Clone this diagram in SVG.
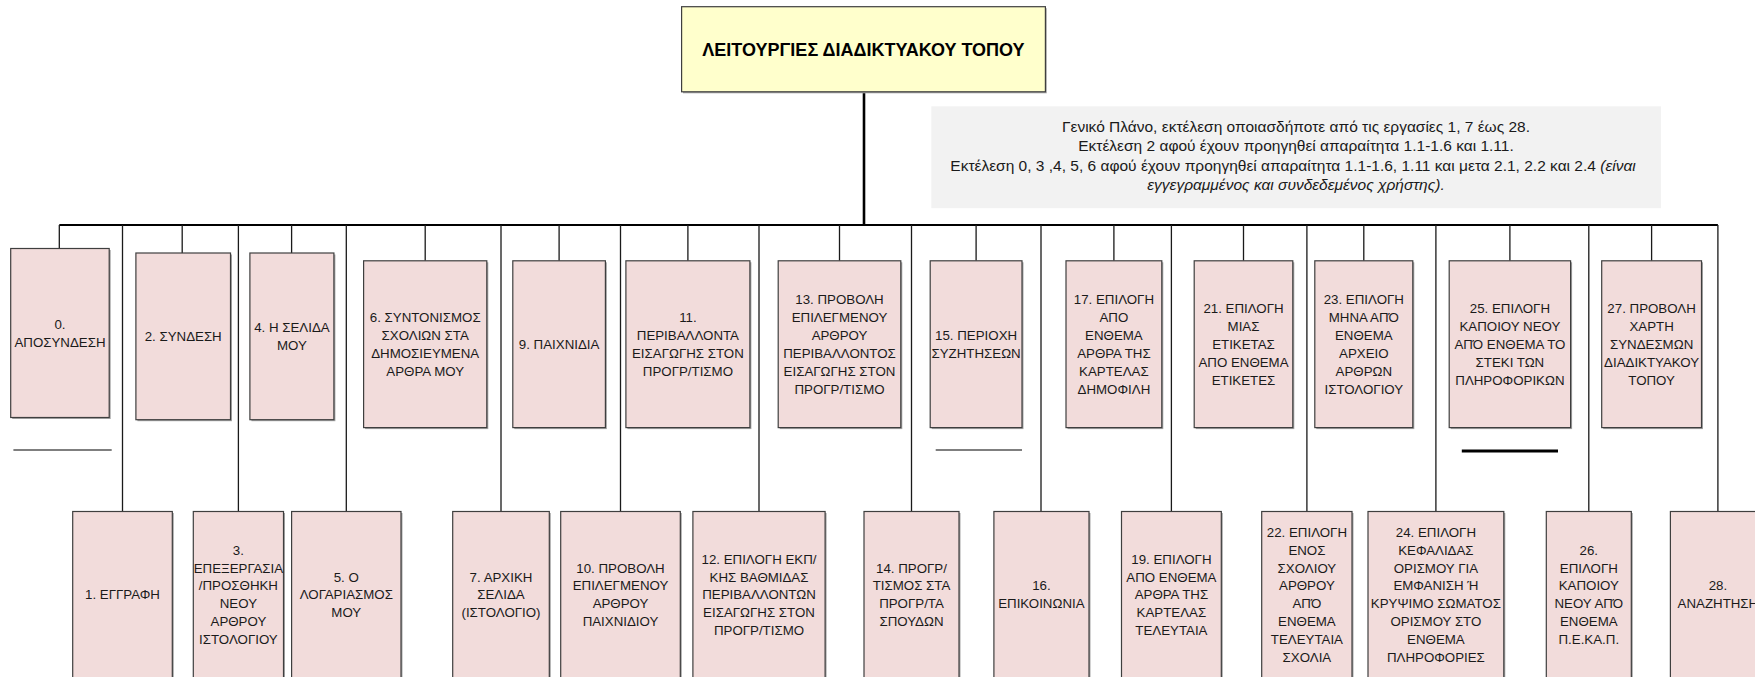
<svg xmlns="http://www.w3.org/2000/svg" width="1755" height="677" viewBox="0 0 1755 677">
  <style>
    .box { fill: #f2dcdb; stroke: #3f3f3f; stroke-width: 1.2; }
    .shadow { fill: #a6a6a6; }
    .title-box { fill: #ffffcc; stroke: #3f3f3f; stroke-width: 1.2; }
    .note-box { fill: #f2f2f2; }
    .lbl { font-family: "Liberation Sans", Arial, sans-serif; font-size: 13.3px; fill: #1a1a1a; text-anchor: middle; }
    .title { font-family: "Liberation Sans", Arial, sans-serif; font-size: 18px; font-weight: bold; fill: #000; text-anchor: middle; }
    .note { font-family: "Liberation Sans", Arial, sans-serif; font-size: 15.5px; fill: #1a1a1a; text-anchor: middle; }
    .conn { fill: none; stroke: #1a1a1a; stroke-width: 1.3; }
    .bus { fill: none; stroke: #000; stroke-width: 2; }
    .trunk { fill: none; stroke: #000; stroke-width: 2.6; }
    .rule { stroke: #000; stroke-width: 1.2; }
    .rule-thick { stroke: #000; stroke-width: 3; }
  </style>

  <rect width="1755" height="677" fill="#ffffff"/>

  <!-- connectors: trunk, bus, drops to the upper row, long lines to the lower row -->
  <g id="connectors">
    <path class="trunk" d="M864 92 V225"/>
    <path class="bus" d="M59.3 225 H1717.9"/>
    <path class="conn" d="M59.3 225 V248.5 M182.2 225 V253 M291.6 225 V253 M425.2 225 V260.8 M559.1 225 V260.8 M687.9 225 V260.8 M839.5 225 V260.8 M976.1 225 V260.8 M1113.9 225 V260.8 M1243.5 225 V260.8 M1363.8 225 V260.8 M1509.9 225 V260.8 M1651.6 225 V260.8"/>
    <path class="conn" d="M122.5 225 V511.5 M238.4 225 V511.5 M346.3 225 V511.5 M501 225 V511.5 M620.5 225 V511.5 M759 225 V511.5 M911.5 225 V511.5 M1041 225 V511.5 M1171.4 225 V511.5 M1306.9 225 V511.5 M1435.9 225 V511.5 M1588.8 225 V511.5 M1717.9 225 V511.5"/>
  </g>

  <!-- separator rules under the upper row -->
  <g id="rules">
    <line class="rule" x1="13.4" y1="450" x2="111.7" y2="450"/>
    <line class="rule" x1="935.7" y1="450" x2="1022" y2="450"/>
    <line class="rule-thick" x1="1461.8" y1="451" x2="1558" y2="451"/>
  </g>

  <!-- root -->
  <g id="root">
    <rect class="shadow" x="683" y="8.2" width="363.8" height="85.1"/>
    <rect class="title-box" x="681.6" y="6.7" width="363.8" height="85.1"/>
    <text class="title" x="863.5" y="55.5">ΛΕΙΤΟΥΡΓΙΕΣ ΔΙΑΔΙΚΤΥΑΚΟΥ ΤΟΠΟΥ</text>
  </g>

  <!-- execution note -->
  <g id="note">
    <rect class="note-box" x="931.3" y="106.3" width="729.7" height="101.9"/>
    <text class="note" x="1296" y="131.5">Γενικό Πλάνο, εκτέλεση οποιασδήποτε από τις εργασίες  1, 7  έως 28.</text>
    <text class="note" x="1296" y="150.5">Εκτέλεση 2 αφού  έχουν προηγηθεί απαραίτητα 1.1-1.6 και 1.11.</text>
    <text class="note" x="1293" y="170.5">Εκτέλεση 0, 3 ,4, 5, 6 αφού έχουν προηγηθεί απαραίτητα 1.1-1.6, 1.11 και μετα 2.1, 2.2 και 2.4  <tspan font-style="italic">(είναι</tspan></text>
    <text class="note" x="1296" y="189.5" font-style="italic">εγγεγραμμένος και συνδεδεμένος χρήστης).</text>
  </g>

  <!-- upper row -->
  <g id="n0">
    <rect class="shadow" x="12.2" y="250" width="98.5" height="169"/>
    <rect class="box" x="10.7" y="248.5" width="98.5" height="169"/>
    <text class="lbl" x="60" y="329.05">0.<tspan x="60" dy="17.9">ΑΠΟΣΥΝΔΕΣΗ</tspan></text>
  </g>
  <g id="n2">
    <rect class="shadow" x="137.4" y="254.5" width="94.6" height="166.7"/>
    <rect class="box" x="135.9" y="253" width="94.6" height="166.7"/>
    <text class="lbl" x="183.2" y="341.4">2. ΣΥΝΔΕΣΗ</text>
  </g>
  <g id="n4">
    <rect class="shadow" x="251.4" y="254.5" width="84" height="166.7"/>
    <rect class="box" x="249.9" y="253" width="84" height="166.7"/>
    <text class="lbl" x="291.9" y="332.45">4. Η ΣΕΛΙΔΑ<tspan x="291.9" dy="17.9">ΜΟΥ</tspan></text>
  </g>
  <g id="n6">
    <rect class="shadow" x="365.1" y="262.3" width="123.2" height="166.8"/>
    <rect class="box" x="363.6" y="260.8" width="123.2" height="166.8"/>
    <text class="lbl" x="425.2" y="322.35">6. ΣΥΝΤΟΝΙΣΜΟΣ<tspan x="425.2" dy="17.9">ΣΧΟΛΙΩΝ ΣΤΑ</tspan><tspan x="425.2" dy="17.9">ΔΗΜΟΣΙΕΥΜΕΝΑ</tspan><tspan x="425.2" dy="17.9">ΑΡΘΡΑ ΜΟΥ</tspan></text>
  </g>
  <g id="n9">
    <rect class="shadow" x="514.3" y="262.3" width="92.6" height="166.8"/>
    <rect class="box" x="512.8" y="260.8" width="92.6" height="166.8"/>
    <text class="lbl" x="559.1" y="349.2">9. ΠΑΙΧΝΙΔΙΑ</text>
  </g>
  <g id="n11">
    <rect class="shadow" x="627.4" y="262.3" width="124" height="166.8"/>
    <rect class="box" x="625.9" y="260.8" width="124" height="166.8"/>
    <text class="lbl" x="687.9" y="322.35">11.<tspan x="687.9" dy="17.9">ΠΕΡΙΒΑΛΛΟΝΤΑ</tspan><tspan x="687.9" dy="17.9">ΕΙΣΑΓΩΓΗΣ ΣΤΟΝ</tspan><tspan x="687.9" dy="17.9">ΠΡΟΓΡ/ΤΙΣΜΟ</tspan></text>
  </g>
  <g id="n13">
    <rect class="shadow" x="779.7" y="262.3" width="122.6" height="166.8"/>
    <rect class="box" x="778.2" y="260.8" width="122.6" height="166.8"/>
    <text class="lbl" x="839.5" y="304.45">13. ΠΡΟΒΟΛΗ<tspan x="839.5" dy="17.9">ΕΠΙΛΕΓΜΕΝΟΥ</tspan><tspan x="839.5" dy="17.9">ΑΡΘΡΟΥ</tspan><tspan x="839.5" dy="17.9">ΠΕΡΙΒΑΛΛΟΝΤΟΣ</tspan><tspan x="839.5" dy="17.9">ΕΙΣΑΓΩΓΗΣ ΣΤΟΝ</tspan><tspan x="839.5" dy="17.9">ΠΡΟΓΡ/ΤΙΣΜΟ</tspan></text>
  </g>
  <g id="n15">
    <rect class="shadow" x="931.7" y="262.3" width="91.8" height="166.8"/>
    <rect class="box" x="930.2" y="260.8" width="91.8" height="166.8"/>
    <text class="lbl" x="976.1" y="340.25">15. ΠΕΡΙΟΧΗ<tspan x="976.1" dy="17.9">ΣΥΖΗΤΗΣΕΩΝ</tspan></text>
  </g>
  <g id="n17">
    <rect class="shadow" x="1067.5" y="262.3" width="95.8" height="166.8"/>
    <rect class="box" x="1066" y="260.8" width="95.8" height="166.8"/>
    <text class="lbl" x="1113.9" y="304.45">17. ΕΠΙΛΟΓΗ<tspan x="1113.9" dy="17.9">ΑΠΟ</tspan><tspan x="1113.9" dy="17.9">ΕΝΘΕΜΑ</tspan><tspan x="1113.9" dy="17.9">ΑΡΘΡΑ ΤΗΣ</tspan><tspan x="1113.9" dy="17.9">ΚΑΡΤΕΛΑΣ</tspan><tspan x="1113.9" dy="17.9">ΔΗΜΟΦΙΛΗ</tspan></text>
  </g>
  <g id="n21">
    <rect class="shadow" x="1195.7" y="262.3" width="98.6" height="166.8"/>
    <rect class="box" x="1194.2" y="260.8" width="98.6" height="166.8"/>
    <text class="lbl" x="1243.5" y="313.4">21. ΕΠΙΛΟΓΗ<tspan x="1243.5" dy="17.9">ΜΙΑΣ</tspan><tspan x="1243.5" dy="17.9">ΕΤΙΚΕΤΑΣ</tspan><tspan x="1243.5" dy="17.9">ΑΠΟ ΕΝΘΕΜΑ</tspan><tspan x="1243.5" dy="17.9">ΕΤΙΚΕΤΕΣ</tspan></text>
  </g>
  <g id="n23">
    <rect class="shadow" x="1316.3" y="262.3" width="98" height="166.8"/>
    <rect class="box" x="1314.8" y="260.8" width="98" height="166.8"/>
    <text class="lbl" x="1363.8" y="304.45">23. ΕΠΙΛΟΓΗ<tspan x="1363.8" dy="17.9">ΜΗΝΑ ΑΠΌ</tspan><tspan x="1363.8" dy="17.9">ΕΝΘΕΜΑ</tspan><tspan x="1363.8" dy="17.9">ΑΡΧΕΙΟ</tspan><tspan x="1363.8" dy="17.9">ΑΡΘΡΩΝ</tspan><tspan x="1363.8" dy="17.9">ΙΣΤΟΛΟΓΙΟΥ</tspan></text>
  </g>
  <g id="n25">
    <rect class="shadow" x="1450.7" y="262.3" width="121.4" height="166.8"/>
    <rect class="box" x="1449.2" y="260.8" width="121.4" height="166.8"/>
    <text class="lbl" x="1509.9" y="313.4">25. ΕΠΙΛΟΓΗ<tspan x="1509.9" dy="17.9">ΚΑΠΟΙΟΥ ΝΕΟΥ</tspan><tspan x="1509.9" dy="17.9">ΑΠΌ ΕΝΘΕΜΑ ΤΟ</tspan><tspan x="1509.9" dy="17.9">ΣΤΕΚΙ ΤΩΝ</tspan><tspan x="1509.9" dy="17.9">ΠΛΗΡΟΦΟΡΙΚΩΝ</tspan></text>
  </g>
  <g id="n27">
    <rect class="shadow" x="1603.2" y="262.3" width="99.8" height="166.8"/>
    <rect class="box" x="1601.7" y="260.8" width="99.8" height="166.8"/>
    <text class="lbl" x="1651.6" y="313.4">27. ΠΡΟΒΟΛΗ<tspan x="1651.6" dy="17.9">ΧΑΡΤΗ</tspan><tspan x="1651.6" dy="17.9">ΣΥΝΔΕΣΜΩΝ</tspan><tspan x="1651.6" dy="17.9">ΔΙΑΔΙΚΤΥΑΚΟΥ</tspan><tspan x="1651.6" dy="17.9">ΤΟΠΟΥ</tspan></text>
  </g>

  <!-- lower row -->
  <g id="n1">
    <rect class="shadow" x="74.2" y="513" width="99.6" height="168.5"/>
    <rect class="box" x="72.7" y="511.5" width="99.6" height="168.5"/>
    <text class="lbl" x="122.5" y="599.4">1. ΕΓΓΡΑΦΗ</text>
  </g>
  <g id="n3">
    <rect class="shadow" x="194.8" y="513" width="90.2" height="168.5"/>
    <rect class="box" x="193.3" y="511.5" width="90.2" height="168.5"/>
    <text class="lbl" x="238.4" y="554.65">3.<tspan x="238.4" dy="17.9">ΕΠΕΞΕΡΓΑΣΙΑ</tspan><tspan x="238.4" dy="17.9">/ΠΡΟΣΘΗΚΗ</tspan><tspan x="238.4" dy="17.9">ΝΕΟΥ</tspan><tspan x="238.4" dy="17.9">ΑΡΘΡΟΥ</tspan><tspan x="238.4" dy="17.9">ΙΣΤΟΛΟΓΙΟΥ</tspan></text>
  </g>
  <g id="n5">
    <rect class="shadow" x="293.1" y="513" width="109.4" height="168.5"/>
    <rect class="box" x="291.6" y="511.5" width="109.4" height="168.5"/>
    <text class="lbl" x="346.3" y="581.5">5. Ο<tspan x="346.3" dy="17.9">ΛΟΓΑΡΙΑΣΜΟΣ</tspan><tspan x="346.3" dy="17.9">ΜΟΥ</tspan></text>
  </g>
  <g id="n7">
    <rect class="shadow" x="454.2" y="513" width="96.6" height="168.5"/>
    <rect class="box" x="452.7" y="511.5" width="96.6" height="168.5"/>
    <text class="lbl" x="501" y="581.5">7. ΑΡΧΙΚΗ<tspan x="501" dy="17.9">ΣΕΛΙΔΑ</tspan><tspan x="501" dy="17.9">(ΙΣΤΟΛΟΓΙΟ)</tspan></text>
  </g>
  <g id="n10">
    <rect class="shadow" x="562.2" y="513" width="119.6" height="168.5"/>
    <rect class="box" x="560.7" y="511.5" width="119.6" height="168.5"/>
    <text class="lbl" x="620.5" y="572.55">10. ΠΡΟΒΟΛΗ<tspan x="620.5" dy="17.9">ΕΠΙΛΕΓΜΕΝΟΥ</tspan><tspan x="620.5" dy="17.9">ΑΡΘΡΟΥ</tspan><tspan x="620.5" dy="17.9">ΠΑΙΧΝΙΔΙΟΥ</tspan></text>
  </g>
  <g id="n12">
    <rect class="shadow" x="694.4" y="513" width="132.2" height="168.5"/>
    <rect class="box" x="692.9" y="511.5" width="132.2" height="168.5"/>
    <text class="lbl" x="759" y="563.6">12. ΕΠΙΛΟΓΗ ΕΚΠ/<tspan x="759" dy="17.9">ΚΗΣ ΒΑΘΜΙΔΑΣ</tspan><tspan x="759" dy="17.9">ΠΕΡΙΒΑΛΛΟΝΤΩΝ</tspan><tspan x="759" dy="17.9">ΕΙΣΑΓΩΓΗΣ ΣΤΟΝ</tspan><tspan x="759" dy="17.9">ΠΡΟΓΡ/ΤΙΣΜΟ</tspan></text>
  </g>
  <g id="n14">
    <rect class="shadow" x="865.5" y="513" width="95" height="168.5"/>
    <rect class="box" x="864" y="511.5" width="95" height="168.5"/>
    <text class="lbl" x="911.5" y="572.55">14. ΠΡΟΓΡ/<tspan x="911.5" dy="17.9">ΤΙΣΜΟΣ ΣΤΑ</tspan><tspan x="911.5" dy="17.9">ΠΡΟΓΡ/ΤΑ</tspan><tspan x="911.5" dy="17.9">ΣΠΟΥΔΩΝ</tspan></text>
  </g>
  <g id="n16">
    <rect class="shadow" x="995.4" y="513" width="95.1" height="168.5"/>
    <rect class="box" x="993.9" y="511.5" width="95.1" height="168.5"/>
    <text class="lbl" x="1041.4" y="590.45">16.<tspan x="1041.4" dy="17.9">ΕΠΙΚΟΙΝΩΝΙΑ</tspan></text>
  </g>
  <g id="n19">
    <rect class="shadow" x="1123" y="513" width="99.8" height="168.5"/>
    <rect class="box" x="1121.5" y="511.5" width="99.8" height="168.5"/>
    <text class="lbl" x="1171.4" y="563.6">19.  ΕΠΙΛΟΓΗ<tspan x="1171.4" dy="17.9">ΑΠΟ ΕΝΘΕΜΑ</tspan><tspan x="1171.4" dy="17.9">ΑΡΘΡΑ ΤΗΣ</tspan><tspan x="1171.4" dy="17.9">ΚΑΡΤΕΛΑΣ</tspan><tspan x="1171.4" dy="17.9">ΤΕΛΕΥΤΑΙΑ</tspan></text>
  </g>
  <g id="n22">
    <rect class="shadow" x="1263.2" y="513" width="90.3" height="168.5"/>
    <rect class="box" x="1261.7" y="511.5" width="90.3" height="168.5"/>
    <text class="lbl" x="1306.9" y="536.75">22. ΕΠΙΛΟΓΗ<tspan x="1306.9" dy="17.9">ΕΝΟΣ</tspan><tspan x="1306.9" dy="17.9">ΣΧΟΛΙΟΥ</tspan><tspan x="1306.9" dy="17.9">ΑΡΘΡΟΥ</tspan><tspan x="1306.9" dy="17.9">ΑΠΌ</tspan><tspan x="1306.9" dy="17.9">ΕΝΘΕΜΑ</tspan><tspan x="1306.9" dy="17.9">ΤΕΛΕΥΤΑΙΑ</tspan><tspan x="1306.9" dy="17.9">ΣΧΟΛΙΑ</tspan></text>
  </g>
  <g id="n24">
    <rect class="shadow" x="1369.5" y="513" width="135.8" height="168.5"/>
    <rect class="box" x="1368" y="511.5" width="135.8" height="168.5"/>
    <text class="lbl" x="1435.9" y="536.75">24. ΕΠΙΛΟΓΗ<tspan x="1435.9" dy="17.9">ΚΕΦΑΛΙΔΑΣ</tspan><tspan x="1435.9" dy="17.9">ΟΡΙΣΜΟΥ ΓΙΑ</tspan><tspan x="1435.9" dy="17.9">ΕΜΦΑΝΙΣΗ Ή</tspan><tspan x="1435.9" dy="17.9">ΚΡΥΨΙΜΟ ΣΩΜΑΤΟΣ</tspan><tspan x="1435.9" dy="17.9">ΟΡΙΣΜΟΥ ΣΤΟ</tspan><tspan x="1435.9" dy="17.9">ΕΝΘΕΜΑ</tspan><tspan x="1435.9" dy="17.9">ΠΛΗΡΟΦΟΡΙΕΣ</tspan></text>
  </g>
  <g id="n26">
    <rect class="shadow" x="1547.8" y="513" width="85" height="168.5"/>
    <rect class="box" x="1546.3" y="511.5" width="85" height="168.5"/>
    <text class="lbl" x="1588.8" y="554.65">26.<tspan x="1588.8" dy="17.9">ΕΠΙΛΟΓΗ</tspan><tspan x="1588.8" dy="17.9">ΚΑΠΟΙΟΥ</tspan><tspan x="1588.8" dy="17.9">ΝΕΟΥ ΑΠΌ</tspan><tspan x="1588.8" dy="17.9">ΕΝΘΕΜΑ</tspan><tspan x="1588.8" dy="17.9">Π.Ε.ΚΑ.Π.</tspan></text>
  </g>
  <g id="n28">
    <rect class="shadow" x="1671.9" y="513" width="95" height="168.5"/>
    <rect class="box" x="1670.4" y="511.5" width="95" height="168.5"/>
    <text class="lbl" x="1717.9" y="590.45">28.<tspan x="1717.9" dy="17.9">ΑΝΑΖΗΤΗΣΗ</tspan></text>
  </g>
</svg>
